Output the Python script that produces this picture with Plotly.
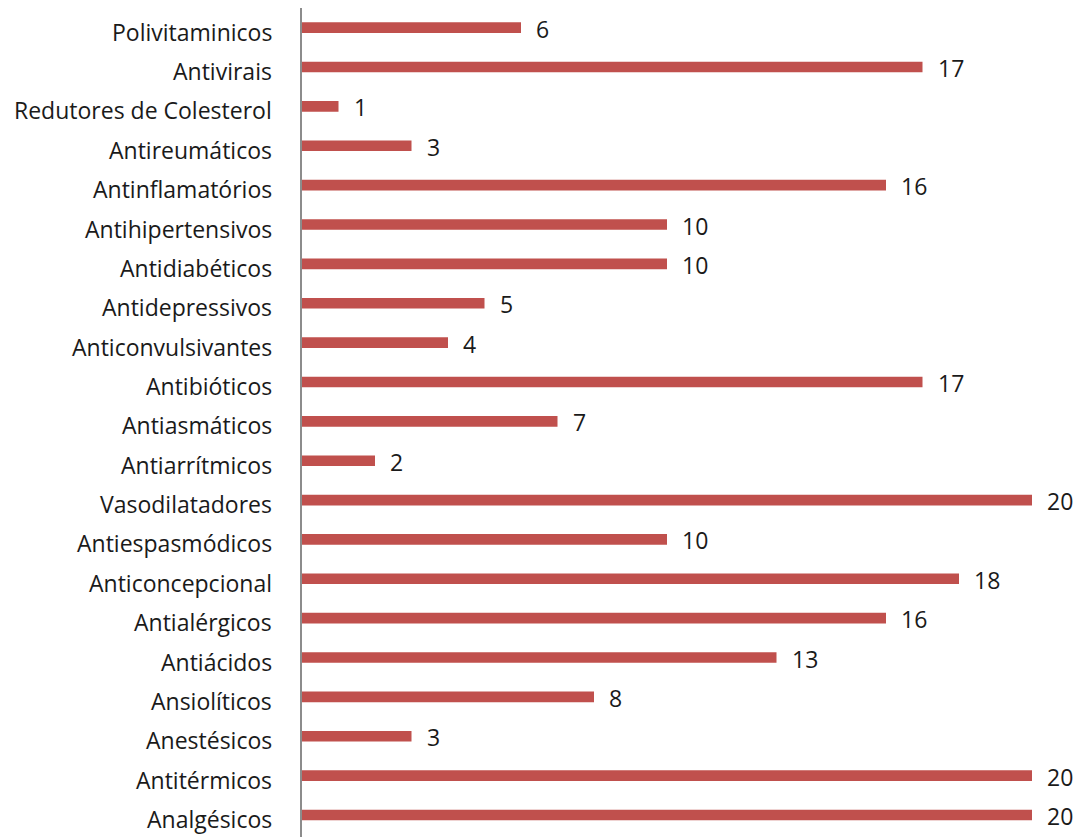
import plotly.graph_objects as go

categories = ["Analgésicos", "Antitérmicos", "Anestésicos", "Ansiolíticos", "Antiácidos",
              "Antialérgicos", "Anticoncepcional", "Antiespasmódicos", "Vasodilatadores",
              "Antiarrítmicos", "Antiasmáticos", "Antibióticos", "Anticonvulsivantes",
              "Antidepressivos", "Antidiabéticos", "Antihipertensivos", "Antinflamatórios",
              "Antireumáticos", "Redutores de Colesterol", "Antivirais", "Polivitaminicos"]
values = [20, 20, 3, 8, 13, 16, 18, 10, 20, 2, 7, 17, 4, 5, 10, 10, 16, 3, 1, 17, 6]

FONT = "Open Sans"
fig = go.Figure()
fig.add_trace(go.Bar(
    x=values, y=categories, orientation="h",
    marker=dict(color="#C0504D", line=dict(width=0)),
    width=0.27, cliponaxis=False,
))
for c, v in zip(categories, values):
    fig.add_annotation(x=v, y=c, text=str(v), showarrow=False, xanchor="left",
                       xshift=13, yshift=-1, font=dict(family=FONT, size=23, color="#1a1a1a"))
    fig.add_annotation(x=0, y=c, text=c, showarrow=False, xanchor="right",
                       xshift=-28, yshift=-4, font=dict(family=FONT, size=23, color="#1a1a1a"))

fig.update_layout(
    width=1078, height=837,
    margin=dict(l=302, r=46, t=8, b=0),
    plot_bgcolor="white", paper_bgcolor="white",
    showlegend=False,
    bargap=0.73,
    xaxis=dict(range=[0, 20], visible=False, fixedrange=True),
    yaxis=dict(type="category", categoryorder="array", categoryarray=categories,
               showline=True, linecolor="#8c8c8c", linewidth=1.5, showgrid=False,
               ticks="", showticklabels=False),
)
fig.write_html("out.html")
